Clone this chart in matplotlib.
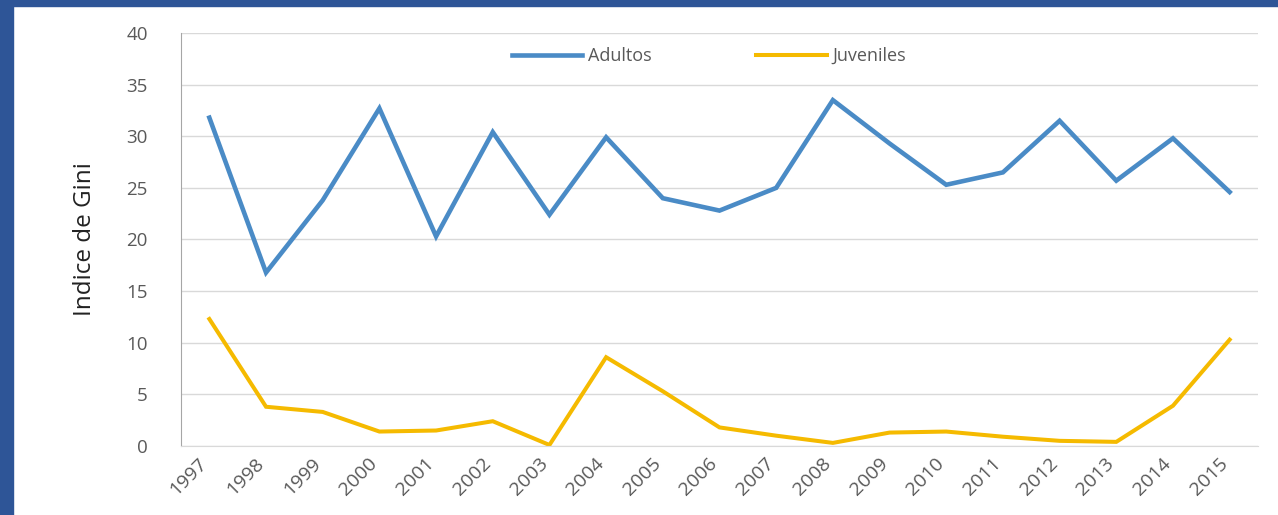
import numpy as np
import matplotlib.pyplot as plt
from matplotlib.patches import Rectangle
from matplotlib.transforms import ScaledTranslation

years = [str(y) for y in range(1997, 2016)]
adultos = [31.8, 16.8, 23.8, 32.7, 20.3, 30.4, 22.4, 29.9, 24.0, 22.8, 25.0,
           33.5, 29.3, 25.3, 26.5, 31.5, 25.7, 29.8, 24.6]
juveniles = [12.3, 3.8, 3.3, 1.4, 1.5, 2.4, 0.1, 8.6, 5.3, 1.8, 1.0,
             0.3, 1.3, 1.4, 0.9, 0.5, 0.4, 3.9, 10.3]
y_ticks = [0, 5, 10, 15, 20, 25, 30, 35, 40]

plt.rcParams['font.family'] = ['Open Sans', 'DejaVu Sans']

fig = plt.figure(figsize=(12.78, 5.15), dpi=100)
fig.patch.set_facecolor('white')
# dark blue frame (slide background) on left and top
border = '#2E5597'
fig.patches.append(Rectangle((0, 0), 13 / 1278, 1, transform=fig.transFigure,
                             color=border, zorder=0))
fig.patches.append(Rectangle((0, 1 - 6 / 515), 1, 6 / 515, transform=fig.transFigure,
                             color=border, zorder=0))

ax = fig.add_axes([181 / 1278, 1 - 446 / 515, (1258 - 181) / 1278, (446 - 33) / 515])
x = np.arange(len(years))
ax.plot(x, adultos, color='#4A8BC6', lw=3.3, label='Adultos', solid_joinstyle='miter')
ax.plot(x, juveniles, color='#F5BA00', lw=2.9, label='Juveniles', solid_joinstyle='miter')

ax.set_xlim(-0.5, len(years) - 0.5)
ax.set_ylim(0, 40)
ax.set_yticks(y_ticks)
ax.set_xticks(x)
ax.set_xticklabels(years, rotation=45, ha='right', va='top', rotation_mode='anchor')
ax.tick_params(axis='y', length=0, colors='#595959', labelsize=13.5, pad=24)
ax.tick_params(axis='x', length=0, colors='#595959', labelsize=14, pad=6)
# nudge year labels a bit to the left, like the original
shift = ScaledTranslation(-8 / 72, 0, fig.dpi_scale_trans)
for lab in ax.get_xticklabels():
    lab.set_transform(lab.get_transform() + shift)

ax.grid(axis='y', color='#D9D9D9', lw=1)
ax.set_axisbelow(True)
for s in ['top', 'right']:
    ax.spines[s].set_visible(False)
ax.spines['left'].set_color('#A6A6A6')
ax.spines['bottom'].set_color('#D9D9D9')

ax.set_ylabel('Indice de Gini', fontsize=17.5, color='#222222')
ax.yaxis.set_label_coords(-0.078, 0.5)

ax.legend(loc='center', bbox_to_anchor=(0.49, 0.944), ncol=2, frameon=False,
          fontsize=13, handlelength=3.9, columnspacing=5.8, handletextpad=0.3,
          labelcolor='#595959')

fig.savefig('out.png', dpi=100, facecolor=fig.get_facecolor())
